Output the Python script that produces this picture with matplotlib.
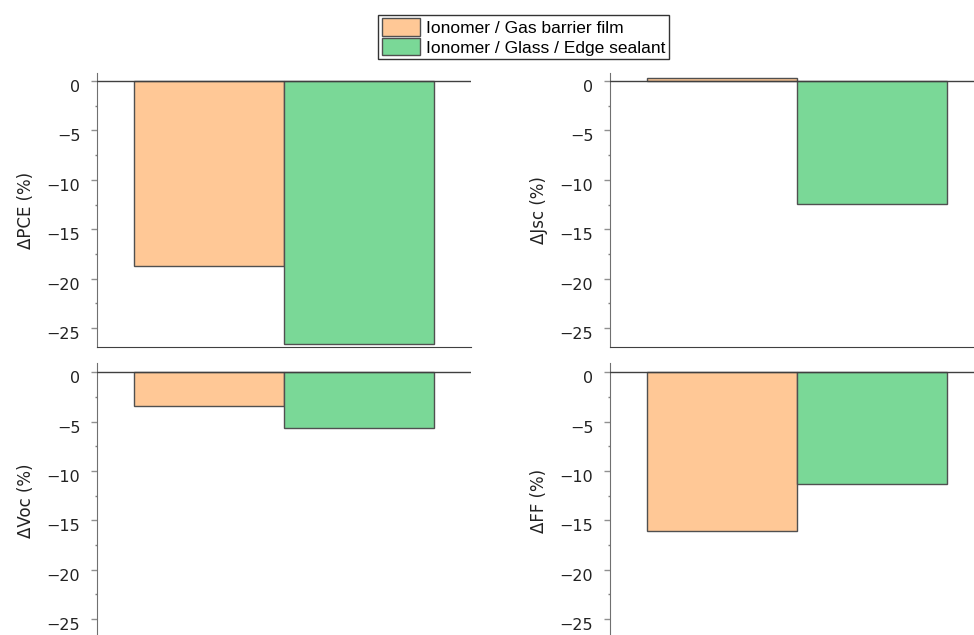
import numpy as np
import matplotlib.pyplot as plt
from matplotlib.ticker import MultipleLocator
from matplotlib.transforms import ScaledTranslation

# data (change in %, after vs before)
series_names = ["Ionomer / Gas barrier film", "Ionomer / Glass / Edge sealant"]
panel_labels = ["\u0394PCE (%)", "\u0394Jsc (%)", "\u0394Voc (%)", "\u0394FF (%)"]
d_pce = [-18.7, -26.6]
d_jsc = [0.3, -12.4]
d_voc = [-3.45, -5.6]
d_ff = [-16.05, -11.3]
panel_values = [d_pce, d_jsc, d_voc, d_ff]
tick_vals = [0, -5, -10, -15, -20, -25]

bar_colors = ["#FFC896", "#7AD897"]
bar_pos = [0.75, 1.75]

W, H = 974, 635
fig = plt.figure(figsize=(W / 100, H / 100), dpi=100)

# axes boxes in pixels: left, top, width, height
boxes = [
    (97, 73, 374, 274),
    (610, 73, 374, 274),
    (97, 362.7, 374, 276),
    (610, 362.7, 374, 276),
]
ylims = [(-26.9, 0.8), (-26.9, 0.8), (-27.0, 0.97), (-27.0, 0.97)]

# tick labels sit a little below their ticks in the original
shift_down = ScaledTranslation(0, -0.05, fig.dpi_scale_trans)

handles = None
for box, vals, lab, yl in zip(boxes, panel_values, panel_labels, ylims):
    l, t, w, h = box
    ax = fig.add_axes([l / W, 1 - (t + h) / H, w / W, h / H])
    bars = []
    for x, v, c, name in zip(bar_pos, vals, bar_colors, series_names):
        b = ax.bar(x, v, width=1.0, color=c, edgecolor="#505050", linewidth=1.0, label=name)
        bars.append(b)
    if handles is None:
        handles = bars
    ax.axhline(0, color="#404040", lw=1.0, zorder=3)
    ax.set_xlim(0, 2.5)
    ax.set_ylim(*yl)
    ax.set_yticks(tick_vals)
    ax.set_yticklabels([f"{v}".replace("-", "\u2212") for v in tick_vals])
    ax.yaxis.set_minor_locator(MultipleLocator(2.5))
    ax.tick_params(axis="y", which="major", length=4.5, width=1, color="#909090",
                   labelsize=11.5, pad=7.5, labelcolor="#222222")
    ax.tick_params(axis="y", which="minor", length=1.5, width=1, color="#808080")
    ax.set_xticks([])
    for s in ["top", "right"]:
        ax.spines[s].set_visible(False)
    ax.spines["left"].set_color("#707070")
    ax.spines["bottom"].set_color("#404040")
    ax.set_ylabel(lab, fontsize=12, color="#222222", labelpad=8)
    for tl in ax.get_yticklabels():
        tl.set_transform(tl.get_transform() + shift_down)

leg = fig.legend(handles, series_names, loc="upper center",
                 bbox_to_anchor=(523.5 / W, 1 - 15 / H),
                 prop={"family": "Liberation Sans", "size": 12.5},
                 fancybox=False, edgecolor="#333333", framealpha=1,
                 handlelength=2.2, handleheight=1.15, handletextpad=0.35,
                 labelspacing=0.12, borderpad=0.2, borderaxespad=0)
leg.get_frame().set_linewidth(1.0)

fig.savefig("out.png", dpi=100)
